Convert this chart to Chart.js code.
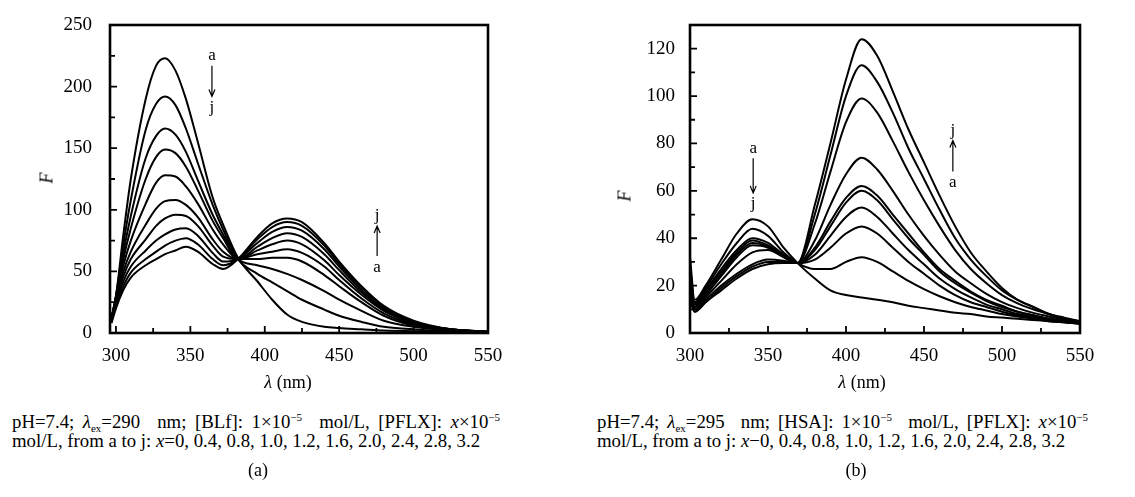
<!DOCTYPE html>
<html>
<head>
<meta charset="utf-8">
<script src="https://cdn.jsdelivr.net/npm/chart.js@4/dist/chart.umd.min.js"></script>
<style>
  body { margin: 0; background: #fff; width: 1135px; height: 497px; position: relative; overflow: hidden;
         font-family: "Liberation Serif", "Times New Roman", serif; color: #000; }
  .box { position: absolute; top: 0; height: 400px; }
  .lbl { position: absolute; font-size: 18px; transform: translate(-50%, -50%); white-space: nowrap; }
  .ytl { position: absolute; font-size: 18px; font-style: italic; transform: translate(-50%, -50%) rotate(-90deg); }
  .cap { position: absolute; font-size: 18.8px; line-height: 20px; height: 20px; white-space: nowrap; }
  .just { text-align: justify; text-align-last: justify; white-space: normal; }
  sub, sup { font-size: 11px; line-height: 0; position: relative; vertical-align: baseline; }
  sub { top: 4px; }
  sup { top: -7px; }
</style>
</head>
<body>
<div class="box" style="left:0;width:560px"><canvas id="chartA"></canvas></div>
<div class="box" style="left:568px;width:567px"><canvas id="chartB"></canvas></div>

<div class="ytl" style="left:47px;top:178px">F</div>
<div class="ytl" style="left:625px;top:196px">F</div>
<div class="lbl" style="left:288px;top:382px"><i>λ</i> (nm)</div>
<div class="lbl" style="left:862px;top:382px"><i>λ</i> (nm)</div>

<div class="cap just" style="left:12px;top:412px;width:488px">pH=7.4; <i>λ</i><sub>ex</sub>=290&nbsp; nm; [BLf]: 1×10<sup>−5</sup>&nbsp; mol/L, [PFLX]: <i>x</i>×10<sup>−5</sup></div>
<div class="cap" style="left:12px;top:431px">mol/L, from a to j: <i>x</i>=0, 0.4, 0.8, 1.0, 1.2, 1.6, 2.0, 2.4, 2.8, 3.2</div>
<div class="cap just" style="left:597px;top:412px;width:491px">pH=7.4; <i>λ</i><sub>ex</sub>=295&nbsp; nm; [HSA]: 1×10<sup>−5</sup>&nbsp; mol/L, [PFLX]: <i>x</i>×10<sup>−5</sup></div>
<div class="cap" style="left:597px;top:431px">mol/L, from a to j: <i>x</i>−0, 0.4, 0.8, 1.0, 1.2, 1.6, 2.0, 2.4, 2.8, 3.2</div>
<div class="lbl" style="left:258px;top:470px">(a)</div>
<div class="lbl" style="left:856px;top:470px">(b)</div>

<script>
// (a) BLf + PFLX, curves a..j
var lamA = [297, 300, 305, 310, 320, 327, 333, 340, 347, 355, 365, 372, 382, 395, 405, 415, 425, 440, 450, 465, 480, 500, 525, 550];
var A_a = [12, 30, 80, 125, 190, 217, 223, 213, 190, 155, 110, 88, 61, 42, 27, 15, 9, 5, 4, 3, 2, 1.5, 1, 0.5];
var A_b = [12, 30, 72, 108, 165, 186, 192, 185, 166, 138, 104, 84, 60, 48, 41, 34, 27, 19, 14, 9, 5, 3, 1, 0.5];
var A_c = [12, 29, 65, 95, 142, 160, 166, 161, 147, 124, 96, 80, 60, 55, 52, 48, 43, 34, 27, 18, 10, 5, 2, 1];
var A_d = [12, 29, 60, 85, 125, 143, 149, 146, 135, 116, 91, 77, 60, 60, 61, 61, 58, 47, 38, 25, 14, 6, 2, 1];
var A_e = [12, 28, 55, 75, 105, 122, 128, 127, 119, 105, 84, 72, 60, 64, 66, 68, 65, 54, 43, 28, 16, 7, 2, 1];
var A_f = [11, 27, 50, 66, 88, 101, 107, 108, 104, 94, 76, 66, 60, 67, 72, 75, 72, 59, 47, 31, 18, 8, 3, 1];
var A_g = [11, 26, 46, 60, 76, 87, 93, 96, 95, 87, 71, 62, 60, 70, 77, 81, 78, 64, 51, 33, 19, 8, 3, 1];
var A_h = [10, 24, 42, 54, 67, 75, 80, 84, 85, 79, 65, 58, 60, 73, 82, 86, 83, 68, 54, 35, 20, 9, 3, 1];
var A_i = [9, 22, 38, 49, 60, 66, 71, 75, 77, 72, 60, 55, 60, 76, 86, 90, 87, 71, 56, 37, 21, 9, 3, 1];
var A_j = [8, 20, 35, 45, 55, 60, 64, 67, 70, 66, 56, 52, 60, 78, 89, 93, 90, 73, 58, 38, 22, 10, 3, 1];

// (b) HSA + PFLX, curves a..j
var lamB = [300, 303, 310, 320, 330, 340, 350, 360, 369, 380, 390, 400, 410, 420, 430, 440, 450, 460, 470, 480, 490, 500, 510, 520, 530, 540, 550];
var B_a = [32, 14, 20, 31, 42, 48, 45, 36, 29.5, 23, 18, 16, 15, 14, 13, 11.5, 10.5, 9.5, 8.5, 8, 7, 6.5, 6, 5.5, 5, 4.5, 4];
var B_b = [28, 13, 19, 29, 38, 44, 41, 34, 29.5, 27, 27, 30, 32, 30, 26, 22, 18.5, 15.5, 13, 11, 9.5, 8, 7, 6, 5, 4.5, 4];
var B_c = [25, 12, 18, 27, 35, 40, 38, 33, 29.5, 31, 36, 42, 45, 42, 36, 30, 25, 20, 16, 13, 11, 9, 7.5, 6.5, 5.5, 4.5, 4];
var B_d = [22, 12, 18, 26, 34, 39, 37, 33, 29.5, 33, 41, 49, 53, 49, 42, 35, 29, 23, 18.5, 15, 12, 10, 8, 7, 6, 5, 4];
var B_e = [20, 11, 17, 25, 33, 38, 36.5, 32.5, 29.5, 35, 45, 55, 60, 56, 48, 40, 33, 26, 21, 17, 13.5, 11, 9, 7.5, 6, 5, 4];
var B_f = [18, 11, 16, 24, 32, 37, 36, 32, 29.5, 36, 47, 57, 62, 58, 50, 42, 34, 27, 22, 17.5, 14, 11.5, 9, 7.5, 6, 5, 4];
var B_g = [17, 10, 15, 22, 29, 34, 35, 32, 29.5, 39, 54, 67, 74, 69, 60, 50, 41, 33, 26, 21, 16.5, 13, 10.5, 8.5, 7, 5.5, 4.5];
var B_h = [16, 10, 14, 20, 25, 29, 31, 30.5, 29.5, 46, 68, 89, 99, 93, 81, 68, 56, 45, 35, 27, 21, 16, 12.5, 10, 8, 6, 5];
var B_i = [15, 9, 13, 19, 24, 28, 30, 30, 29.5, 50, 75, 100, 113, 106, 93, 78, 65, 52, 40, 31, 24, 18, 14, 11, 8, 6.5, 5];
var B_j = [14, 9, 13, 18, 23, 27, 29, 29.5, 29.5, 54, 80, 107, 124, 117, 102, 86, 72, 58, 45, 34, 26, 19, 14, 11, 8, 6, 5];

var curveNames = ['a', 'b', 'c', 'd', 'e', 'f', 'g', 'h', 'i', 'j'];

function makeSets(lam, series) {
    var sets = [];
    for (var k = 0; k < series.length; k++) {
        var pts = [];
        for (var n = 0; n < lam.length; n++) {
            pts.push({x: lam[n], y: series[k][n]});
        }
        sets.push({
            label: curveNames[k],
            data: pts,
            borderColor: '#000',
            borderWidth: 2,
            pointRadius: 0,
            fill: false,
            cubicInterpolationMode: 'monotone'
        });
    }
    return sets;
}

// box frame + inward tick marks + a->j labels
var framePlugin = {
    id: 'frame',
    afterDatasetsDraw: function(chart, args, opts) {
        var ctx = chart.ctx, area = chart.chartArea;
        var xs = chart.scales.x, ys = chart.scales.y;
        ctx.save();
        ctx.strokeStyle = '#000';
        ctx.lineWidth = 1.8;
        ctx.beginPath();
        var v, p, len;
        for (v = Math.ceil(xs.min / opts.xMinor) * opts.xMinor; v <= xs.max; v += opts.xMinor) {
            p = xs.getPixelForValue(v);
            len = (v % opts.xMajor === 0) ? 7 : 5;
            ctx.moveTo(p, area.bottom);
            ctx.lineTo(p, area.bottom - len);
        }
        for (v = Math.ceil(ys.min / opts.yMinor) * opts.yMinor; v <= ys.max; v += opts.yMinor) {
            p = ys.getPixelForValue(v);
            len = (v % opts.yMajor === 0) ? 7 : 5;
            ctx.moveTo(area.left, p);
            ctx.lineTo(area.left + len, p);
        }
        ctx.stroke();
        ctx.lineWidth = 2.6;
        ctx.strokeRect(area.left, area.top, area.right - area.left, area.bottom - area.top);

        ctx.font = '17px "Liberation Serif", serif';
        ctx.fillStyle = '#000';
        ctx.textAlign = 'center';
        ctx.textBaseline = 'middle';
        ctx.lineWidth = 1.2;
        opts.marks.forEach(function(m) {
            var x = xs.getPixelForValue(m.x);
            var yTop = ys.getPixelForValue(m.top);
            var yBot = ys.getPixelForValue(m.bottom);
            ctx.fillText(m.upper, x, yTop);
            ctx.fillText(m.lower, x, yBot);
            var y1 = yTop + 10, y2 = yBot - 11;
            ctx.beginPath();
            ctx.moveTo(x, y1);
            ctx.lineTo(x, y2);
            if (m.dir === 'down') {
                ctx.moveTo(x - 3, y2 - 7); ctx.lineTo(x, y2); ctx.lineTo(x + 3, y2 - 7);
            } else {
                ctx.moveTo(x - 3, y1 + 7); ctx.lineTo(x, y1); ctx.lineTo(x + 3, y1 + 7);
            }
            ctx.stroke();
        });
        ctx.restore();
    }
};

function makeConfig(lam, series, xr, yr, yStep, pad, yWidth, tickPad, frameOpts) {
    return {
        type: 'line',
        data: { datasets: makeSets(lam, series) },
        options: {
            responsive: true,
            maintainAspectRatio: false,
            animation: false,
            events: [],
            layout: { padding: pad },
            plugins: { legend: { display: false }, tooltip: { enabled: false }, frame: frameOpts },
            scales: {
                x: {
                    type: 'linear', min: xr[0], max: xr[1],
                    grid: { display: false }, border: { display: false },
                    ticks: { stepSize: 50, includeBounds: false, padding: 4, color: '#000',
                             font: { family: '"Liberation Serif", serif', size: 19 } },
                    afterFit: function(s) { s.height = 67; }
                },
                y: {
                    min: yr[0], max: yr[1],
                    grid: { display: false }, border: { display: false },
                    ticks: { stepSize: yStep, includeBounds: false, padding: tickPad, color: '#000',
                             font: { family: '"Liberation Serif", serif', size: 19 } },
                    afterFit: function(s) { s.width = yWidth; }
                }
            }
        },
        plugins: [framePlugin]
    };
}

window.onload = function() {
    var ctxA = document.getElementById('chartA').getContext('2d');
    window.chartA = new Chart(ctxA, makeConfig(lamA,
        [A_a, A_b, A_c, A_d, A_e, A_f, A_g, A_h, A_i, A_j],
        [296, 550], [0, 250], 50,
        { left: 37, top: 25, right: 72, bottom: 0 }, 73, 10,
        { xMinor: 25, xMajor: 50, yMinor: 25, yMajor: 50,
          marks: [ { x: 364.5, top: 225, bottom: 183, upper: 'a', lower: 'j', dir: 'down' },
                   { x: 475.5, top: 95, bottom: 53.5, upper: 'j', lower: 'a', dir: 'up' } ] }));

    var ctxB = document.getElementById('chartB').getContext('2d');
    window.chartB = new Chart(ctxB, makeConfig(lamB,
        [B_a, B_b, B_c, B_d, B_e, B_f, B_g, B_h, B_i, B_j],
        [300, 550], [0, 130], 20,
        { left: 47, top: 25, right: 55, bottom: 0 }, 75, 7,
        { xMinor: 25, xMajor: 50, yMinor: 10, yMajor: 20,
          marks: [ { x: 340.5, top: 78, bottom: 54.5, upper: 'a', lower: 'j', dir: 'down' },
                   { x: 468.5, top: 85.5, bottom: 63.5, upper: 'j', lower: 'a', dir: 'up' } ] }));
};
</script>
</body>
</html>
